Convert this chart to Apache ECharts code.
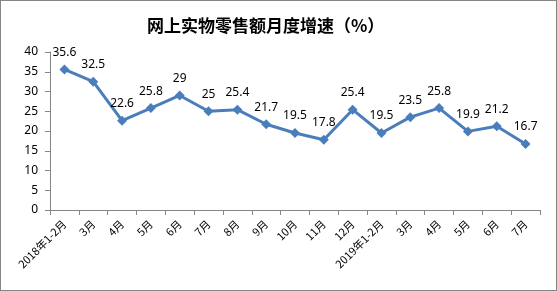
<!DOCTYPE html>
<html><head><meta charset="utf-8">
<script src="https://cdn.jsdelivr.net/npm/echarts@6/dist/echarts.min.js"></script>
<style>html,body{margin:0;padding:0;background:#fff}#c{width:557px;height:291px;box-sizing:border-box;border:1px solid #868686}</style>
</head><body><div id="c"></div>
<script>
const title = '网上实物零售额月度增速（%）';
const categories = ['2018年1-2月','3月','4月','5月','6月','7月','8月','9月','10月','11月','12月','2019年1-2月','3月','4月','5月','6月','7月'];
const values = [35.6,32.5,22.6,25.8,29,25,25.4,21.7,19.5,17.8,25.4,19.5,23.5,25.8,19.9,21.2,16.7];
const yTicks = {min:0,max:40,interval:5};
const chart = echarts.init(document.getElementById('c'));
chart.setOption({
  animation:false,
  title:{text:title,left:141,top:11,textStyle:{fontSize:17,fontWeight:'bold',color:'#000',fontFamily:'Noto Sans CJK SC'}},
  grid:{left:49,right:16,top:51,bottom:80},
  xAxis:{type:'category',data:categories,boundaryGap:true,
    axisLine:{lineStyle:{color:'#868686'}},
    axisTick:{show:true,alignWithLabel:false,length:5,lineStyle:{color:'#868686'}},
    axisLabel:{rotate:45,interval:0,fontSize:11,color:'#000',fontFamily:'Noto Sans CJK SC',margin:12}},
  yAxis:{type:'value',min:yTicks.min,max:yTicks.max,interval:yTicks.interval,
    splitLine:{show:false},
    axisLine:{show:true,lineStyle:{color:'#868686'}},
    axisTick:{show:true,length:5,lineStyle:{color:'#868686'}},
    axisLabel:{fontSize:12,color:'#000',fontFamily:'Noto Sans',margin:12}},
  series:[{type:'line',data:values,symbol:'diamond',symbolSize:10,
    lineStyle:{color:'#4a7ebb',width:3},itemStyle:{color:'#4a7ebb'},
    label:{show:true,position:'top',distance:6,fontSize:12,color:'#000',fontFamily:'Noto Sans'}}]
});
</script></body></html>
